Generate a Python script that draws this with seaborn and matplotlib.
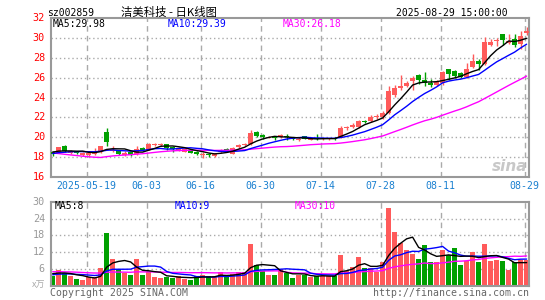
import numpy as np
import pandas as pd
import matplotlib
matplotlib.use("Agg")
import matplotlib.pyplot as plt
import seaborn as sns

# ---------------- data ----------------
open_ = [18.55, 18.45, 19.15, 18.45, 18.55, 18.2, 18.25, 18.35, 18.5, 20.55,
         18.65, 18.6, 18.25, 18.5, 18.3, 18.9, 18.75, 19.25, 19.25, 19.3,
         19.0, 18.7, 18.55, 18.7, 18.5, 18.2, 18.35, 18.1, 18.5, 18.8,
         18.35, 19.0, 19.25, 19.35, 20.5, 20.25, 19.95, 20.05, 20.0, 20.15,
         19.9, 19.75, 20.1, 19.75, 19.9, 19.8, 19.8, 19.95, 19.95, 20.95,
         21.05, 21.0, 21.65, 21.6, 22.0, 22.0, 22.5, 24.3, 24.95, 25.2,
         25.7, 26.25, 25.8, 25.5, 25.3, 25.45, 26.85, 26.65, 26.5, 26.1,
         27.05, 27.7, 27.4, 29.35, 29.75, 30.4, 29.55, 29.95, 29.4, 30.5]
high = [18.65, 19.05, 19.2, 18.75, 18.65, 18.5, 18.5, 18.9, 19.15, 20.95,
        19.15, 18.7, 18.6, 18.55, 19.15, 19.0, 19.45, 19.4, 19.4, 19.35,
        19.1, 19.0, 18.95, 18.85, 18.6, 18.5, 18.45, 18.45, 18.85, 18.9,
        19.0, 19.3, 19.45, 20.75, 20.6, 20.35, 20.1, 20.1, 20.3, 20.3,
        19.95, 20.0, 20.15, 19.95, 20.3, 19.95, 19.95, 20.05, 21.15, 21.15,
        21.4, 21.75, 21.75, 22.25, 22.35, 22.7, 25.2, 25.3, 26.25, 25.7,
        26.2, 26.4, 26.6, 25.9, 25.8, 26.7, 26.9, 26.75, 26.6, 27.5,
        28.45, 27.85, 30.1, 29.9, 30.05, 30.45, 30.45, 30.4, 30.7, 31.1]
low = [18.1, 18.4, 18.55, 18.35, 18.3, 18.1, 18.15, 18.2, 18.45, 19.15,
       18.55, 18.25, 18.1, 18.1, 18.2, 18.6, 18.7, 19.1, 19.15, 18.7,
       18.55, 18.6, 18.5, 18.4, 18.2, 17.9, 18.05, 18.05, 18.45, 18.5,
       18.3, 18.95, 19.15, 19.25, 20.0, 19.8, 19.9, 19.75, 19.95, 19.75,
       19.7, 19.6, 19.8, 19.7, 19.7, 19.75, 19.75, 19.75, 19.9, 20.75,
       20.9, 20.95, 21.4, 21.55, 21.85, 21.85, 22.35, 24.1, 24.8, 25.1,
       24.75, 25.4, 25.2, 25.1, 25.2, 25.3, 25.8, 25.95, 25.95, 26.0,
       26.95, 26.75, 27.3, 29.2, 29.2, 29.3, 29.4, 29.1, 28.95, 30.3]
close = [18.35, 19.0, 18.6, 18.6, 18.45, 18.4, 18.4, 18.45, 19.1, 19.55,
         18.75, 18.35, 18.4, 18.2, 18.85, 18.75, 19.3, 19.3, 19.3, 18.95,
         18.8, 18.9, 18.85, 18.45, 18.3, 18.3, 18.2, 18.4, 18.75, 18.7,
         18.95, 19.25, 19.35, 20.45, 20.1, 20.0, 20.05, 19.9, 20.2, 20.0,
         19.8, 19.85, 19.85, 19.85, 19.85, 19.9, 19.9, 19.85, 20.95, 21.05,
         21.2, 21.6, 21.55, 22.05, 22.1, 22.45, 24.7, 25.0, 25.2, 25.45,
         26.0, 25.75, 25.45, 25.25, 25.6, 26.55, 26.4, 26.15, 26.05, 26.9,
         27.7, 27.35, 29.6, 29.6, 29.75, 29.85, 29.75, 29.35, 30.25, 30.7]
volume = [3.5, 5.6, 4.6, 3.5, 2.3, 2.0, 3.0, 3.0, 6.4, 18.7,
          9.5, 5.8, 4.6, 3.8, 9.5, 3.8, 5.0, 3.0, 2.7, 3.2,
          2.9, 3.5, 2.5, 2.2, 3.5, 3.8, 3.5, 3.0, 5.0, 3.0,
          4.3, 5.0, 5.0, 14.9, 7.4, 5.4, 4.0, 4.0, 5.8, 4.6,
          2.8, 4.0, 3.7, 3.0, 3.5, 3.5, 3.5, 3.5, 11.1, 5.1,
          6.6, 10.3, 6.2, 6.4, 5.0, 8.4, 27.8, 19.2, 15.4, 12.9,
          11.4, 9.5, 14.6, 8.6, 8.3, 12.6, 10.9, 13.3, 7.3, 8.8,
          12.2, 8.6, 15.0, 8.9, 9.2, 8.8, 5.6, 8.4, 9.2, 9.2]
# sessions before the visible window (needed for the moving averages)
prior_close = [20.6, 20.8, 20.5, 20.3, 20.4, 20.1, 19.9, 19.8,
               17.0, 16.6, 16.9, 17.1, 17.3, 17.2, 17.4, 17.3, 17.2, 17.4, 17.5, 17.5,
               18.1, 18.2, 18.1, 18.3, 18.4, 18.5, 18.5, 18.6, 18.6]
prior_volume = [5.5, 6.0, 5.0, 4.8, 5.2, 6.5, 5.0, 7.0,
                9.5, 8.0, 6.0, 5.5, 5.0, 4.5, 5.0, 4.5, 4.0, 4.5, 5.0, 4.5,
                3.5, 3.8, 3.5, 3.7, 3.0, 4.5, 4.5, 4.5, 4.5]
date_labels = ["2025-05-19", "06-03", "06-16", "06-30", "07-14", "07-28", "08-11", "08-29"]
date_index = [6, 16, 25, 35, 45, 55, 65, 79]
price_ticks = [16, 18, 20, 22, 24, 26, 28, 30, 32]
vol_ticks = [6, 12, 18, 24, 30]

# ---------------- style ----------------
sns.set_theme(style="white")
plt.rcParams['font.family'] = ['DejaVu Sans Mono', 'Noto Sans CJK SC']
RED = "#ff5a5a"
GREEN = "#00a000"
GRID = "#aaaaaa"
FRAME = "#999999"
DATEC = "#1a80d0"

W, H = 545, 300
fig = plt.figure(figsize=(W / 100, H / 100), dpi=100)
fig.patch.set_facecolor("white")

def fx(px):
    return px / W

def fy(py):
    return 1 - py / H

L_PX, R_PX = 50.7, 529.3
ax = fig.add_axes([fx(L_PX), fy(177), (R_PX - L_PX) / W, (177 - 18.3) / H])
axv = fig.add_axes([fx(L_PX), fy(285.7), (R_PX - L_PX) / W, (285.7 - 201.7) / H])

n = len(close)
x = np.arange(n)
o = np.array(open_); c = np.array(close); h = np.array(high); l = np.array(low)
v = np.array(volume)
up = c >= o
cols = np.where(up, RED, GREEN)

allc = pd.Series(prior_close + close)
ma5 = allc.rolling(5).mean().values[-n:]
ma10 = allc.rolling(10).mean().values[-n:]
ma30 = allc.rolling(30).mean().values[-n:]
allv = pd.Series(prior_volume + volume)
vma5 = allv.rolling(5).mean().values[-n:]
vma10 = allv.rolling(10).mean().values[-n:]
vma30 = allv.rolling(30).mean().values[-n:]

xlim = (-0.33, 79.45)
grid_x = [i - 0.35 for i in date_index]

# ---------------- price panel ----------------
for gx in grid_x:
    ax.axvline(gx, color=GRID, lw=1, ls=(0, (4, 3)), zorder=0)
for t in price_ticks[1:-1]:
    ax.axhline(t, color=GRID, lw=1, ls=(0, (1, 2)), zorder=0)

ax.vlines(x, l, h, colors=cols, lw=1, zorder=2)
body_lo = np.minimum(o, c)
body_h = np.maximum(np.abs(c - o), 0.08)
ax.bar(x, body_h, bottom=body_lo, width=0.78, color=cols, lw=0, zorder=3)

sns.lineplot(x=x, y=ma30, ax=ax, color="#ff00ff", lw=1, zorder=4)
sns.lineplot(x=x, y=ma10, ax=ax, color="#0000ff", lw=1, zorder=4)
sns.lineplot(x=x, y=ma5, ax=ax, color="black", lw=1, zorder=5)

ax.set_xlim(*xlim)
ax.set_ylim(16, 32)
ax.set_xticks([]); ax.set_yticks([])
ax.set_xlabel(""); ax.set_ylabel("")
for s in ax.spines.values():
    s.set_color(FRAME); s.set_linewidth(1.5)

ax.text(0.995, 0.02, "sina", transform=ax.transAxes, ha="right", va="bottom",
        fontsize=11, fontweight="bold", style="italic", color="#c8c8c8",
        family="DejaVu Sans", zorder=1)

# ---------------- volume panel ----------------
for gx in grid_x:
    axv.axvline(gx, color=GRID, lw=1, ls=(0, (4, 3)), zorder=0)
for t in vol_ticks[:-1]:
    axv.axhline(t, color=GRID, lw=1, ls=(0, (1, 2)), zorder=0)
axv.bar(x, v, width=0.78, color=cols, lw=0, zorder=2)
sns.lineplot(x=x, y=vma30, ax=axv, color="#ff00ff", lw=1, zorder=4)
sns.lineplot(x=x, y=vma10, ax=axv, color="#0000ff", lw=1, zorder=4)
sns.lineplot(x=x, y=vma5, ax=axv, color="black", lw=1, zorder=5)
axv.set_xlim(*xlim)
axv.set_ylim(0, 30)
axv.set_xticks([]); axv.set_yticks([])
axv.set_xlabel(""); axv.set_ylabel("")
for s in axv.spines.values():
    s.set_color(FRAME); s.set_linewidth(1.5)

# ---------------- texts ----------------
FS = 7.0
fig.text(fx(47.5), fy(12.5), "sz002859", fontsize=FS, va="center", ha="left", color="black")
fig.text(fx(169), fy(12.5), "洁美科技 - 日K线图", fontsize=8.2, va="center", ha="center",
         color="black", family=["Noto Sans CJK SC", "DejaVu Sans"])
fig.text(fx(507.5), fy(12.5), "2025-08-29 15:00:00", fontsize=FS, va="center", ha="right", color="black")

fig.text(fx(52.5), fy(23.8), f"MA5:{ma5[-1]:.2f}", fontsize=FS, va="center", ha="left", color="black")
fig.text(fx(167.5), fy(23.8), f"MA10:{ma10[-1]:.2f}", fontsize=FS, va="center", ha="left", color="#0000ff")
fig.text(fx(282.7), fy(23.8), f"MA30:{ma30[-1]:.2f}", fontsize=FS, va="center", ha="left", color="#ff00ff")

for t in price_ticks:
    ax.text(-0.012, t, f"{t}", transform=ax.get_yaxis_transform(), ha="right", va="center",
            fontsize=7.3, color="#ff0000")
for t in vol_ticks:
    axv.text(-0.012, t, f"{t}", transform=axv.get_yaxis_transform(), ha="right", va="center",
             fontsize=7.3, color="#999999")
fig.text(fx(45), fy(285), "x万", fontsize=6.5, ha="right", va="center", color="#aaaaaa",
         family=["Noto Sans CJK SC", "DejaVu Sans"])

for lab, gx in zip(date_labels, grid_x):
    ax.text(gx, -0.055, lab, transform=ax.get_xaxis_transform(), ha="center", va="center",
            fontsize=7.1, color=DATEC)

fig.text(fx(54.3), fy(206), f"MA5:{int(vma5[-1])}", fontsize=FS, va="center", ha="left", color="black")
fig.text(fx(175), fy(206), f"MA10:{int(vma10[-1])}", fontsize=FS, va="center", ha="left", color="#0000ff")
fig.text(fx(295), fy(206), f"MA30:{int(vma30[-1])}", fontsize=FS, va="center", ha="left", color="#ff00ff")

fig.text(fx(50), fy(293.5), "Copyright 2025 SINA.COM", fontsize=7.1, va="center", ha="left", color="#666666")
fig.text(fx(529), fy(293.5), "http://finance.sina.com.cn", fontsize=7.1, va="center", ha="right", color="#666666")

fig.savefig("out.png", dpi=100, facecolor="white")
